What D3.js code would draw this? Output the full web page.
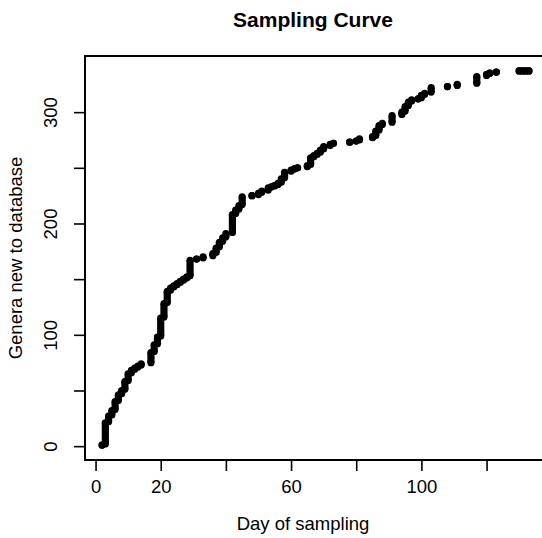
<!DOCTYPE html>
<html>
<head>
<meta charset="utf-8">
<script src="https://cdn.jsdelivr.net/npm/d3@7"></script>
<style>
  body { margin: 0; background: #fff; }
  svg { display: block; }
  text { font-family: "Liberation Sans", Arial, Helvetica, sans-serif; fill: #000; }
</style>
</head>
<body>
<script>
// sampling day and cumulative number of genera new to the database at the end of that day
const sampleDay = [
  2, 3, 4, 5, 6, 7, 8, 9, 10, 11, 12, 13, 14,
  17, 18, 19, 20, 21, 22, 23, 24, 25, 26, 27, 28, 29,
  31, 33, 36, 37, 38, 39, 40, 42, 43, 44, 45,
  48, 50, 51, 53, 54, 55, 56, 57, 58, 60, 61, 62,
  65, 66, 67, 68, 69, 70, 72, 73, 78, 80, 81,
  85, 86, 87, 88, 91, 94, 95, 96, 97, 99, 100, 101, 103,
  108, 111, 117, 120, 121, 123, 130, 131, 132, 133
];
const generaTotal = [
  1, 21, 27, 32, 40, 46, 50, 58, 65, 68, 70, 72, 74,
  84, 91, 98, 115, 128, 139, 142, 144, 146, 148, 150, 152, 167,
  168, 170, 173, 178, 183, 187, 191, 208, 212, 216, 224,
  225, 227, 229, 232, 233, 234, 236, 240, 246, 248, 249, 250,
  252, 259, 261, 263, 266, 269, 271, 272, 273, 274, 276,
  278, 283, 288, 290, 297, 300, 305, 309, 311, 312, 315, 317, 322,
  323, 325, 332, 334, 335, 336, 337, 337, 337, 337
];

const xTicks = [0, 20, 40, 60, 80, 100, 120];
const xTickLabels = [0, 20, 60, 100];      // R drops the ones that would collide
const yTicks = [0, 50, 100, 150, 200, 250, 300];
const yTickLabels = [0, 100, 200, 300];

const W = 542, H = 538;
const plot = { left: 85, right: 546, top: 56, bottom: 460 };
const R = 3.6; // point radius

// one row per sampling day: the genera added that day form a vertical run
const rows = sampleDay.map((d, i) => {
  const prev = i ? generaTotal[i - 1] : 0;
  const total = generaTotal[i];
  return { day: d, from: total > prev ? prev + 1 : total, to: total };
});

// R style 4% padding around the data range
const pad = (lo, hi) => [lo - (hi - lo) * 0.04, hi + (hi - lo) * 0.04];

const x = d3.scaleLinear()
  .domain(pad(d3.min(sampleDay), d3.max(sampleDay)))
  .range([plot.left, plot.right]);

const y = d3.scaleLinear()
  .domain(pad(d3.min(rows, r => r.from), d3.max(generaTotal)))
  .range([plot.bottom, plot.top]);

const svg = d3.select('body').append('svg')
  .attr('width', W)
  .attr('height', H);

// points
const runs = svg.append('g').attr('class', 'points')
  .selectAll('g')
  .data(rows)
  .join('g');

runs.append('line')
  .attr('x1', r => x(r.day)).attr('x2', r => x(r.day))
  .attr('y1', r => y(r.from)).attr('y2', r => y(r.to))
  .attr('stroke', '#000')
  .attr('stroke-width', R * 2);

runs.selectAll('circle')
  .data(r => [{ day: r.day, v: r.from }, { day: r.day, v: r.to }])
  .join('circle')
  .attr('cx', p => x(p.day))
  .attr('cy', p => y(p.v))
  .attr('r', R)
  .attr('fill', '#000');

// box
svg.append('rect')
  .attr('x', plot.left)
  .attr('y', plot.top)
  .attr('width', plot.right - plot.left)
  .attr('height', plot.bottom - plot.top)
  .attr('fill', 'none')
  .attr('stroke', '#000')
  .attr('stroke-width', 2);

// x axis
const xAxis = svg.append('g')
  .attr('transform', `translate(0,${plot.bottom})`)
  .call(d3.axisBottom(x)
    .tickValues(xTicks)
    .tickSize(11)
    .tickPadding(6)
    .tickFormat(d => xTickLabels.includes(d) ? d : ''));

// y axis
const yAxis = svg.append('g')
  .attr('transform', `translate(${plot.left},0)`)
  .call(d3.axisLeft(y)
    .tickValues(yTicks)
    .tickSize(11)
    .tickFormat(d => yTickLabels.includes(d) ? d : ''));

[xAxis, yAxis].forEach(a => {
  a.select('.domain').remove();
  a.selectAll('.tick line').attr('stroke', '#000').attr('stroke-width', 1.6);
  a.selectAll('.tick text').style('font-size', '18.5px').attr('fill', '#000');
});
xAxis.selectAll('.tick text').attr('dy', null).attr('y', 33);

// R draws the axis line only between the outer ticks
xAxis.append('line')
  .attr('x1', x(xTicks[0])).attr('x2', x(xTicks[xTicks.length - 1]))
  .attr('stroke', '#000').attr('stroke-width', 1.6);

yAxis.selectAll('.tick text')
  .attr('x', null).attr('dy', null)
  .attr('text-anchor', 'middle')
  .attr('transform', 'translate(-28,0) rotate(-90)');

// titles
svg.append('text')
  .attr('x', 313).attr('y', 27)
  .attr('text-anchor', 'middle')
  .style('font-size', '21px')
  .style('font-weight', 'bold')
  .text('Sampling Curve');

svg.append('text')
  .attr('x', 303).attr('y', 530)
  .attr('text-anchor', 'middle')
  .style('font-size', '18.5px')
  .text('Day of sampling');

svg.append('text')
  .attr('transform', `translate(22,${(plot.top + plot.bottom) / 2}) rotate(-90)`)
  .attr('text-anchor', 'middle')
  .style('font-size', '18.5px')
  .text('Genera new to database');
</script>
</body>
</html>
